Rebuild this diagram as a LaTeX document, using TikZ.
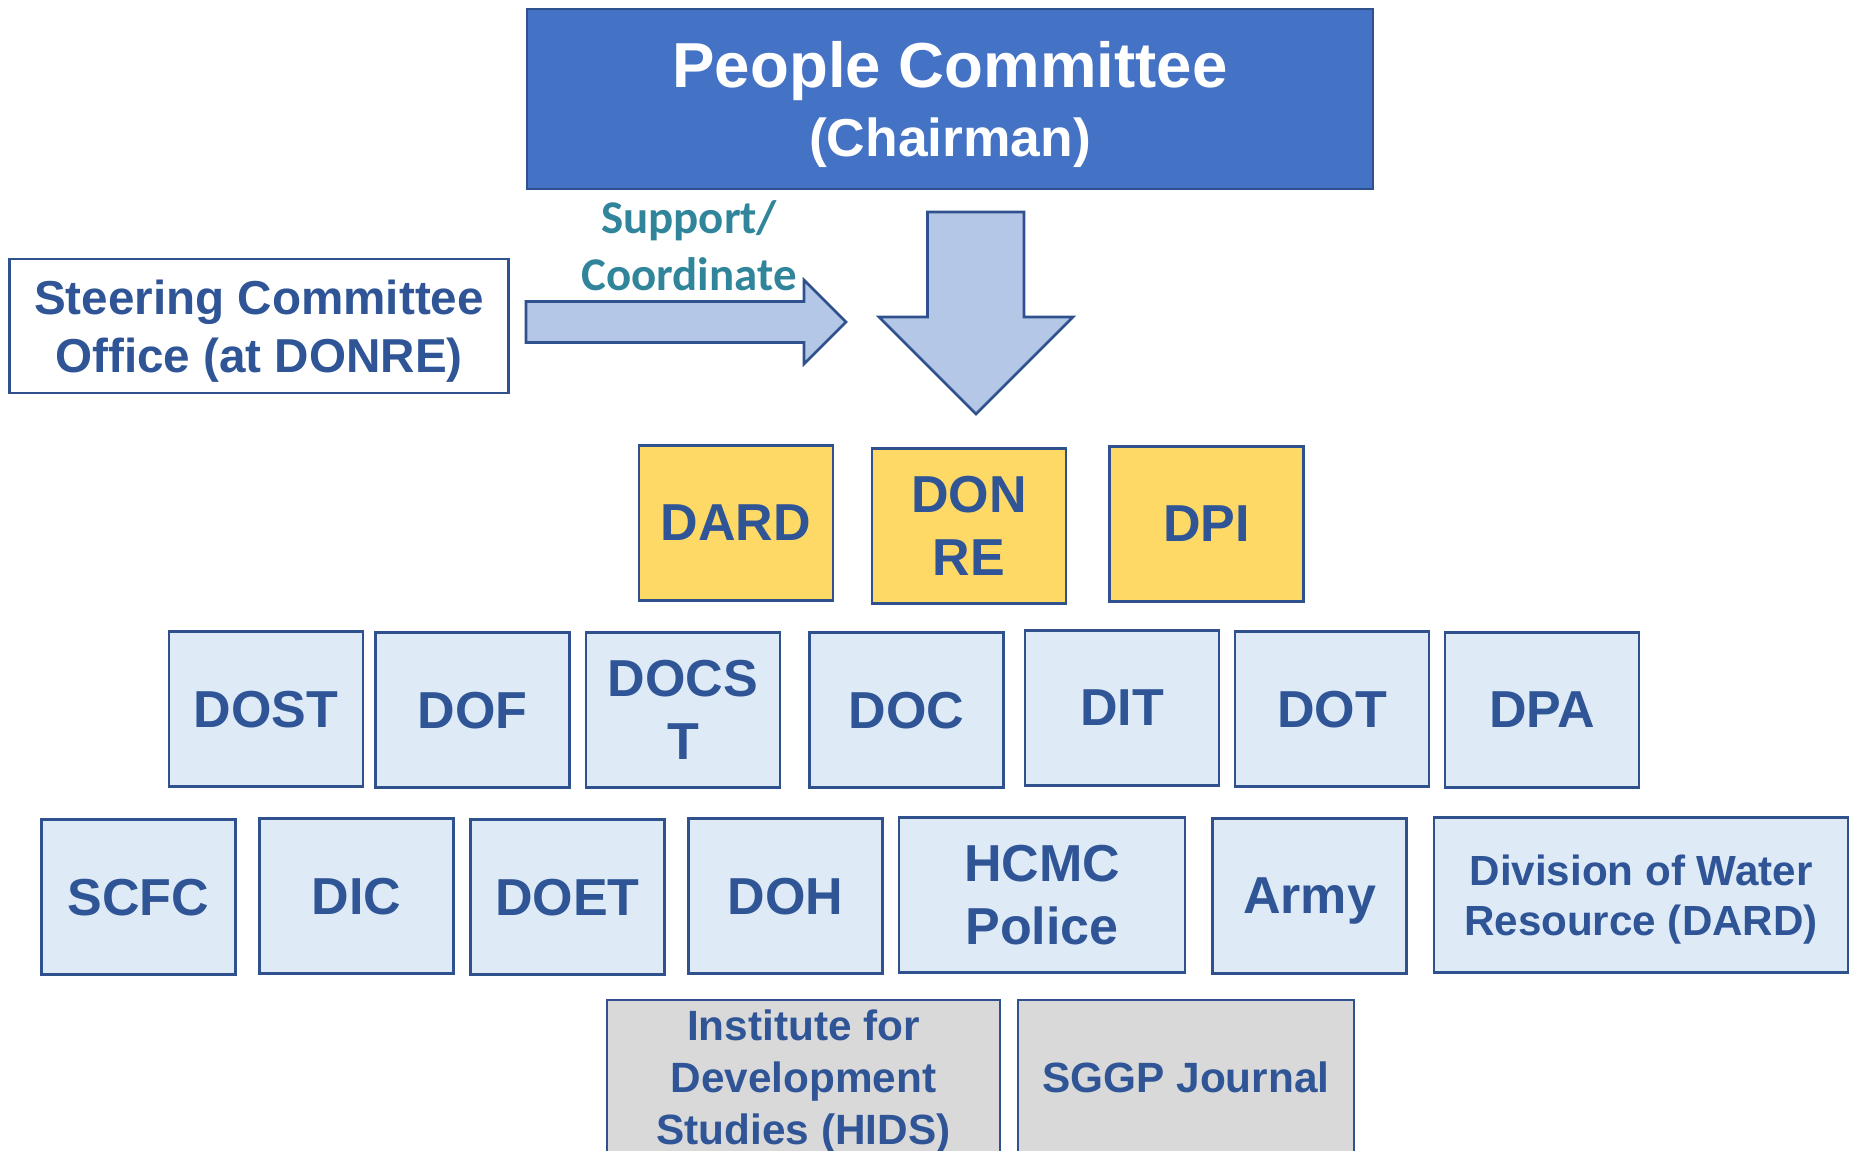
\documentclass[tikz,border=0pt]{standalone}
\usepackage{fontspec}
\setmainfont{Liberation Sans}
\newfontfamily\calfont{Carlito}
\usetikzlibrary{positioning}

\definecolor{edgeblue}{RGB}{47,82,143}
\definecolor{textblue}{RGB}{47,85,151}
\definecolor{headblue}{RGB}{68,114,196}
\definecolor{paleblue}{RGB}{222,235,247}
\definecolor{arrowblue}{RGB}{180,199,231}
\definecolor{gold}{RGB}{255,217,102}
\definecolor{lightgrey}{RGB}{217,217,217}
\definecolor{teal}{RGB}{49,133,155}

\tikzset{
unit box/.style={draw=edgeblue, line width=1.5pt, text=textblue, align=center, inner sep=0pt, text depth=-3.5pt,
  font=\bfseries\fontsize{29.6}{35.7}\selectfont, minimum width=3.88cm, minimum height=3.1cm}, % every small box
dept/.style={unit box, fill=paleblue},
lead/.style={unit box, fill=gold},
extra/.style={unit box, fill=lightgrey, font=\bfseries\fontsize{24.1}{29.6}\selectfont},
block arrow/.style={draw=edgeblue, line width=1.5pt, fill=arrowblue, line join=miter},
}

\begin{document}
\begin{tikzpicture}[x=0.02cm, y=-0.02cm]
\useasboundingbox (0,0) rectangle (1856,1151);

% top of the chart
\node[draw=edgeblue, line width=1.5pt, fill=headblue, text=white, align=center, text depth=-5.5pt,
  minimum width=16.92cm, minimum height=3.6cm, font=\bfseries\fontsize{36.2}{40}\selectfont]
  at (950, 99) (pc) {People Committee\\[-1pt]{\fontsize{30.4}{40}\selectfont (Chairman)}};
\node[draw=edgeblue, line width=1.5pt, fill=white, text=textblue, align=center, text depth=-1.1pt,
  minimum width=9.97cm, minimum height=2.68cm, font=\bfseries\fontsize{27.1}{33}\selectfont]
  at (259, 326) (sco) {Steering Committee\\Office (at DONRE)};
\node[text=teal, align=center, font=\calfont\bfseries\fontsize{26.7}{32.4}\selectfont]
  at (689, 246) (sup) {Support/\\Coordinate};

% block arrows
\draw[block arrow] (526,301.5) -- (804,301.5) -- (804,280) -- (846,322) -- (804,364) -- (804,342.5) -- (526,342.5) -- cycle;
\draw[block arrow] (927.5,212) -- (1024,212) -- (1024,317) -- (1073,317) -- (976,414) -- (879,317) -- (927.5,317) -- cycle;

% leading departments
\node[lead] at (736, 523) (dard) {DARD};
\node[lead] at (969, 526) (donre) {DON\\RE};
\node[lead] at (1206.5, 524) (dpi) {DPI};

% second row
\node[dept] at (266, 709) (dost) {DOST};
\node[dept] at (472.5, 710) (dof) {DOF};
\node[dept] at (683, 710) (docst) {DOCS\\T};
\node[dept] at (906.5, 710) (doc) {DOC};
\node[dept] at (1122, 708) (dit) {DIT};
\node[dept] at (1332, 709) (dot) {DOT};
\node[dept] at (1542, 710) (dpa) {DPA};

% third row
\node[dept] at (138.5, 897) (scfc) {SCFC};
\node[dept] at (356.5, 896) (dic) {DIC};
\node[dept] at (567.5, 897) (doet) {DOET};
\node[dept] at (785.5, 896) (doh) {DOH};
\node[dept, minimum width=5.72cm] at (1042, 895) (police) {HCMC\\Police};
\node[dept] at (1309.5, 896) (army) {Army};
\node[dept, minimum width=8.28cm, text depth=-2.4pt, font=\bfseries\fontsize{24}{28.5}\selectfont]
  at (1641, 895) (water) {Division of Water\\Resource (DARD)};

% last row
\node[extra, minimum width=7.86cm, text depth=-0.4pt] at (803.5, 1077.5) (hids) {Institute for\\Development\\Studies (HIDS)};
\node[extra, minimum width=6.72cm, text depth=0pt] at (1186, 1077.5) (sggp) {SGGP Journal};

\end{tikzpicture}
\end{document}
